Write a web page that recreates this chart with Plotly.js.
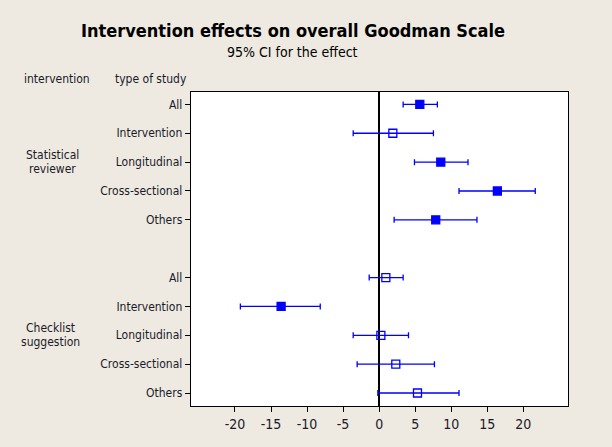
<!DOCTYPE html>
<html><head><meta charset="utf-8">
<script src="https://cdn.plot.ly/plotly-3.0.1.min.js"></script>
<style>html,body{margin:0;padding:0;background:#EEEAE1;}</style>
</head><body>
<div id="chart" style="width:612px;height:447px;"></div>
<script>
// row labels (type of study), top to bottom; index 5 is the empty gap
const studyTypes = ["All","Intervention","Longitudinal","Cross-sectional","Others","","All","Intervention","Longitudinal","Cross-sectional","Others"];
const groups = [["Statistical","reviewer"],["Checklist","suggestion"]];
// estimates and 95% CI for Statistical reviewer
const statEst  = [5.64, 1.9, 8.55, 16.4, 7.85];
const statLow  = [3.33, -3.6, 4.9, 11.08, 2.08];
const statHigh = [8.08, 7.53, 12.33, 21.66, 13.57];
const statSig  = [true, false, true, true, true];
// estimates and 95% CI for Checklist suggestion
const checkEst  = [0.93, -13.6, 0.24, 2.31, 5.32];
const checkLow  = [-1.38, -19.25, -3.6, -3.05, -0.18];
const checkHigh = [3.33, -8.17, 4.07, 7.67, 11.08];
const checkSig  = [false, true, false, false, false];
const xTicks = [-20,-15,-10,-5,0,5,10,15,20];

const rowsStat = [0,1,2,3,4];
const rowsCheck = [6,7,8,9,10];

function trace(est, low, high, sig, rows){
  return {
    type:'scatter', mode:'markers',
    x: est, y: rows,
    error_x:{type:'data', symmetric:false,
      array: est.map((v,i)=>high[i]-v),
      arrayminus: est.map((v,i)=>v-low[i]),
      color:'#0000FF', thickness:1.3, width:3},
    marker:{symbol: sig.map(s=>s?'square':'square-open'), size:8, color:'#0000FF', line:{color:'#0000FF', width:1.3}},
    showlegend:false, hoverinfo:'x+y'
  };
}

const data = [trace(statEst,statLow,statHigh,statSig,rowsStat), trace(checkEst,checkLow,checkHigh,checkSig,rowsCheck)];

const font = "Tahoma, 'DejaVu Sans Condensed', 'DejaVu Sans', sans-serif";
const annFont = {size:12, family:font, color:'#1a1a2a'};
const layout = {
  width:612, height:447,
  paper_bgcolor:'#EEEAE1', plot_bgcolor:'#FFFFFF',
  margin:{l:191, r:44, t:92, b:41},
  font:{family:font, color:'#1a1a2a', size:12},
  xaxis:{range:[-26.1,26.2], tickvals:xTicks, ticktext:xTicks.map(String), ticks:'outside', ticklen:5, tickcolor:'#000',
    showgrid:false, zeroline:true, zerolinecolor:'#000', zerolinewidth:1.3, showline:true, linecolor:'#000', linewidth:1.3, mirror:true,
    tickfont:{size:14, family:font}},
  yaxis:{range:[10.45,-0.43], tickvals:[0,1,2,3,4,6,7,8,9,10], ticktext:studyTypes.filter(s=>s!==""),
    ticks:'outside', ticklen:5, tickcolor:'#000', showgrid:false, zeroline:false,
    showline:true, linecolor:'#000', linewidth:1.3, mirror:true, tickfont:{size:12, family:font}},
  annotations:[
    {text:'<b>Intervention effects on overall Goodman Scale</b>', xref:'paper', yref:'paper', x:0.27, y:1.0, xanchor:'center', yanchor:'bottom', yshift:49, showarrow:false, font:{size:18, family:font, color:'#000'}},
    {text:'95% CI for the effect', xref:'paper', yref:'paper', x:0.27, y:1.0, xanchor:'center', yanchor:'bottom', yshift:30, showarrow:false, font:{size:14, family:font, color:'#000'}},
    {text:'intervention', xref:'paper', yref:'paper', x:-0.355, y:1.0, xanchor:'center', yanchor:'bottom', yshift:4, showarrow:false, font:annFont},
    {text:'type of study', xref:'paper', yref:'paper', x:-0.105, y:1.0, xanchor:'center', yanchor:'bottom', yshift:4, showarrow:false, font:annFont},
    {text:groups[0][0], xref:'paper', yref:'y', x:-0.368, y:2, xanchor:'center', yanchor:'middle', yshift:7, borderpad:0, showarrow:false, font:annFont},
    {text:groups[0][1], xref:'paper', yref:'y', x:-0.368, y:2, xanchor:'center', yanchor:'middle', yshift:-7, borderpad:0, showarrow:false, font:annFont},
    {text:groups[1][0], xref:'paper', yref:'y', x:-0.373, y:8, xanchor:'center', yanchor:'middle', yshift:7, borderpad:0, showarrow:false, font:annFont},
    {text:groups[1][1], xref:'paper', yref:'y', x:-0.373, y:8, xanchor:'center', yanchor:'middle', yshift:-7, borderpad:0, showarrow:false, font:annFont}
  ]
};
Plotly.newPlot('chart', data, layout, {displayModeBar:false, staticPlot:true});
</script>
</body></html>
